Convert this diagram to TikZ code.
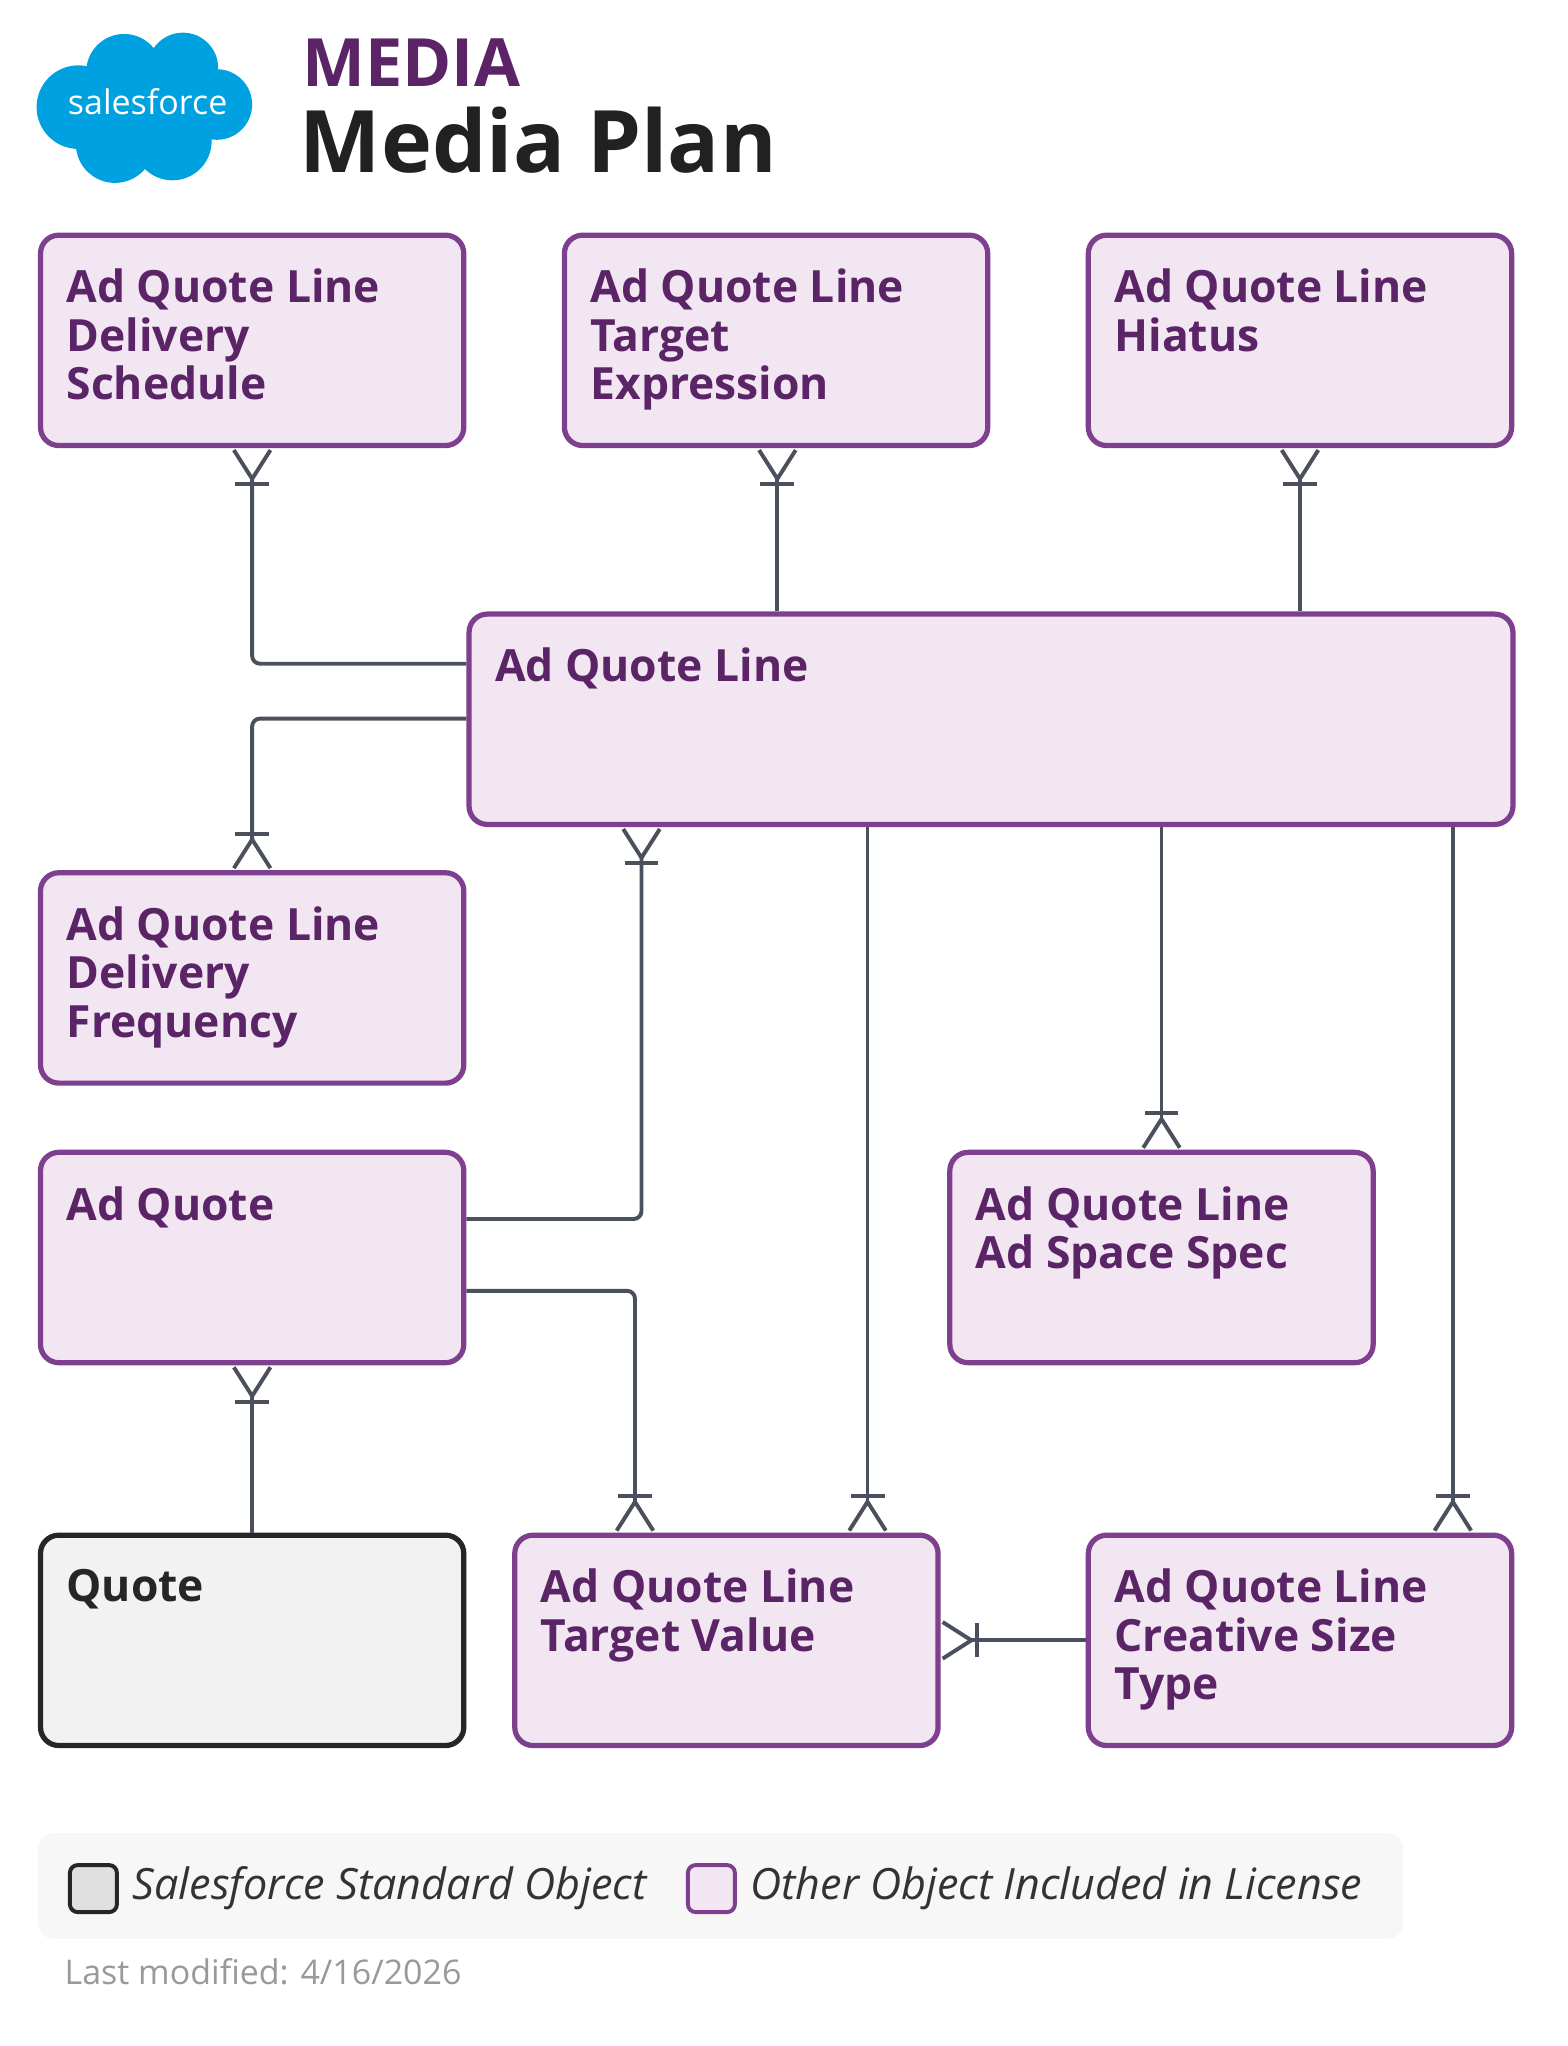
\documentclass[tikz,border=0pt]{standalone}
\usepackage{fontspec}
\setmainfont{Open Sans}
\usetikzlibrary{arrows.meta}
\definecolor{pfill}{HTML}{F2E6F2}
\definecolor{pline}{HTML}{7E3F8E}
\definecolor{ptext}{HTML}{5A2466}
\definecolor{conn}{HTML}{4A505C}
\definecolor{sfblue}{HTML}{00A1E0}
\tikzset{
 box/.style={draw=pline,fill=pfill,line width=4pt,rounded corners=14pt,anchor=north west,inner xsep=20pt,inner ysep=26pt,text=ptext,font=\fontsize{34}{37}\selectfont\bfseries},
 std/.style={box,draw=black!85,fill=black!5,text=black!85},
 rel/.style={draw=conn,line width=3pt,rounded corners=6pt},
 crow/.style={rel,-{Bar[width=26pt,sep=0pt]Straight Barb[reversed,length=22pt,width=28pt,line width=3pt]}},
}
\newcommand{\bx}[1]{\parbox[t][109pt][t]{284pt}{#1}}
\begin{document}
\begin{tikzpicture}[x=1pt,y=-1pt]
\useasboundingbox (0,0) rectangle (1200,1566);
% logo
\fill[sfblue] (60,82) circle (32) (95,55) circle (29) (140,52) circle (27) (166,80) circle (27) (132,108) circle (30) (88,110) circle (30) (110,80) ellipse (60 and 35);
\node[text=white,font=\fontsize{26}{30}\selectfont] (logo) at (113,78) {salesforce};
\node[anchor=base west,text=ptext,font=\fontsize{51}{52}\selectfont\bfseries] (t1) at (228,66) {MEDIA};
\node[anchor=base west,text=black!87,font=\fontsize{66}{72}\selectfont\bfseries] (t2) at (226,132) {Media Plan};
% boxes
\node[box] (A) at (29,178) {\bx{Ad Quote Line\\Delivery\\Schedule}};
\node[box] (B) at (430,178) {\bx{Ad Quote Line\\Target\\Expression}};
\node[box] (C) at (831,178) {\bx{Ad Quote Line\\Hiatus}};
\node[box] (D) at (357,468) {\parbox[t][109pt][t]{759pt}{Ad Quote Line}};
\node[box] (E) at (29,666) {\bx{Ad Quote Line\\Delivery\\Frequency}};
\node[box] (F) at (29,880) {\bx{Ad Quote}};
\node[box] (G) at (725,880) {\bx{Ad Quote Line\\Ad Space Spec}};
\node[std] (H) at (29,1173) {\bx{Quote}};
\node[box] (I) at (392,1173) {\bx{Ad Quote Line\\Target Value}};
\node[box] (J) at (831,1173) {\bx{Ad Quote Line\\Creative Size\\Type}};
% connectors
\draw[crow] (D.west |- 0,508) -- (193,508) -- (A.south -| 193,0);
\draw[crow] (D.north -| 595,0) -- (B.south -| 595,0);
\draw[crow] (D.north -| 995,0) -- (C.south -| 995,0);
\draw[crow] (D.west |- 0,550) -- (193,550) -- (E.north -| 193,0);
\draw[crow] (F.east |- 0,933) -- (491,933) -- (D.south -| 491,0);
\draw[crow] (F.east |- 0,988) -- (486,988) -- (I.north -| 486,0);
\draw[crow] (D.south -| 664,0) -- (I.north -| 664,0);
\draw[crow] (D.south -| 889,0) -- (G.north -| 889,0);
\draw[crow] (D.south -| 1112,0) -- (J.north -| 1112,0);
\draw[crow] (H.north -| 193,0) -- (F.south -| 193,0);
\draw[crow] (J.west) -- (I.east);
% legend
\fill[black!3,rounded corners=12pt] (29,1403) rectangle (1074,1484);
\node[draw=black!85,fill=black!12,line width=3pt,rounded corners=6pt,minimum size=36pt,anchor=north west] (l1) at (52,1426) {};
\node[anchor=west,text=black!80,font=\fontsize{33}{34}\selectfont\itshape] (lt1) at (98,1445) {Salesforce Standard Object};
\node[draw=pline,fill=pfill,line width=3pt,rounded corners=6pt,minimum size=36pt,anchor=north west] (l2) at (525,1426) {};
\node[anchor=west,text=black!80,font=\fontsize{33}{34}\selectfont\itshape] (lt2) at (571,1445) {Other Object Included in License};
\node[anchor=west,text=black!40,font=\fontsize{26}{28}\selectfont] (lm) at (46,1509) {Last modified: 4/16/2026};
\end{tikzpicture}
\end{document}
